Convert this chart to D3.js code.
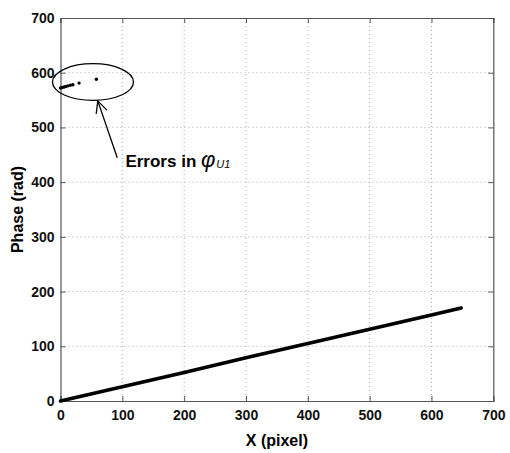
<!DOCTYPE html>
<html>
<head>
<meta charset="utf-8">
<script src="https://cdn.jsdelivr.net/npm/d3@7"></script>
<style>
  body { margin: 0; background: #fff; }
  text { font-family: Arial, "Liberation Sans", sans-serif; }
</style>
</head>
<body>
<svg id="chart" width="510" height="453"></svg>
<script>
// Unwrapped phase along the row (pixel, rad)
const phaseX = [0, 100, 200, 300, 400, 500, 600, 648];
const phaseY = [0, 26, 52, 79, 105, 131, 157, 170];

// Isolated erroneous samples of phi_U1
const errX = [0, 3, 6, 9, 12, 16, 20, 30, 58];
const errY = [572, 573, 574, 575, 576, 577, 578, 581, 588];

const xTicks = [0, 100, 200, 300, 400, 500, 600, 700];
const yTicks = [0, 100, 200, 300, 400, 500, 600, 700];

const svg = d3.select("#chart");
const m = { left: 60.5, right: 493.3, top: 18, bottom: 401 };

const x = d3.scaleLinear().domain([0, 700]).range([m.left, m.right]);
const y = d3.scaleLinear().domain([0, 700]).range([m.bottom, m.top]);

// dotted grid
const grid = svg.append("g");
grid.selectAll("line.gx").data(xTicks.slice(1, -1)).join("line")
  .attr("x1", d => x(d)).attr("x2", d => x(d))
  .attr("y1", m.top).attr("y2", m.bottom)
  .attr("stroke", "#aaa").attr("stroke-width", 1)
  .attr("stroke-dasharray", "1,3");
grid.selectAll("line.gy").data(yTicks.slice(1, -1)).join("line")
  .attr("x1", m.left).attr("x2", m.right)
  .attr("y1", d => y(d)).attr("y2", d => y(d))
  .attr("stroke", "#aaa").attr("stroke-width", 1)
  .attr("stroke-dasharray", "1,3");

// axes with inward ticks
const xAxis = svg.append("g").attr("transform", `translate(0,${m.bottom})`)
  .call(d3.axisBottom(x).tickValues(xTicks).tickSize(-5).tickPadding(9).tickFormat(d3.format("d")));
const xTop = svg.append("g").attr("transform", `translate(0,${m.top})`)
  .call(d3.axisTop(x).tickValues(xTicks).tickSize(-5).tickFormat(""));
const yAxis = svg.append("g").attr("transform", `translate(${m.left},0)`)
  .call(d3.axisLeft(y).tickValues(yTicks).tickSize(-5).tickPadding(6).tickFormat(d3.format("d")));
const yRight = svg.append("g").attr("transform", `translate(${m.right},0)`)
  .call(d3.axisRight(y).tickValues(yTicks).tickSize(-5).tickFormat(""));

[xAxis, xTop, yAxis, yRight].forEach(g => {
  g.selectAll("path.domain").attr("stroke", "#555").attr("stroke-width", 1.2);
  g.selectAll(".tick line").attr("stroke", "#555");
  g.selectAll("text").attr("font-size", 14).attr("font-weight", "bold")
    .attr("fill", "#111").attr("font-family", "Arial, 'Liberation Sans', sans-serif");
});

// phase ramp
const line = d3.line().x((d, i) => x(phaseX[i])).y((d, i) => y(phaseY[i]));
svg.append("path").datum(phaseX).attr("d", line)
  .attr("fill", "none").attr("stroke", "#000").attr("stroke-width", 3.6)
  .attr("stroke-linecap", "round");

// error samples
svg.append("g").selectAll("circle").data(errX).join("circle")
  .attr("cx", d => x(d)).attr("cy", (d, i) => y(errY[i]))
  .attr("r", 1.7).attr("fill", "#000");

// annotation ellipse
svg.append("ellipse")
  .attr("cx", x(52.5)).attr("cy", y(583))
  .attr("rx", x(65.5) - x(0)).attr("ry", y(0) - y(33.5))
  .attr("fill", "none").attr("stroke", "#000").attr("stroke-width", 1.3);

// arrow pointing to the ellipse
const tip = [x(60.3), y(548.5)];
const tail = [x(91.8), y(444.5)];
svg.append("line")
  .attr("x1", tail[0]).attr("y1", tail[1]).attr("x2", tip[0]).attr("y2", tip[1])
  .attr("stroke", "#000").attr("stroke-width", 1.3);
const ang = Math.atan2(tail[1] - tip[1], tail[0] - tip[0]);
const hl = 13, ha = 0.45;
svg.append("path")
  .attr("d", `M${tip[0] + hl * Math.cos(ang - ha)},${tip[1] + hl * Math.sin(ang - ha)} L${tip[0]},${tip[1]} L${tip[0] + hl * Math.cos(ang + ha)},${tip[1] + hl * Math.sin(ang + ha)}`)
  .attr("fill", "none").attr("stroke", "#000").attr("stroke-width", 1.3);

// annotation text
const note = svg.append("text").attr("x", x(105)).attr("y", y(428))
  .attr("font-size", 17).attr("font-weight", "bold").attr("fill", "#000");
note.append("tspan").text("Errors in ");
note.append("tspan").text("φ").attr("font-style", "italic").attr("font-weight", "normal")
  .attr("font-size", 22);
note.append("tspan").text("U1").attr("font-style", "italic").attr("font-weight", "normal")
  .attr("font-size", 11).attr("dy", 1).attr("dx", 1);

// axis titles
svg.append("text").attr("x", (m.left + m.right) / 2).attr("y", 446)
  .attr("text-anchor", "middle").attr("font-size", 16).attr("font-weight", "bold")
  .text("X (pixel)");
svg.append("text").attr("transform", `translate(23,${(m.top + m.bottom) / 2}) rotate(-90)`)
  .attr("text-anchor", "middle").attr("font-size", 16).attr("font-weight", "bold")
  .text("Phase (rad)");
</script>
</body>
</html>
